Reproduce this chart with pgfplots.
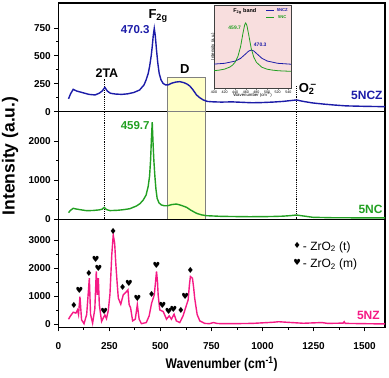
\documentclass[border=0pt]{standalone}
\usepackage{fontspec}
\setmainfont{Liberation Sans}
\newfontfamily\symfont{DejaVu Sans}
\usepackage{pgfplots}
\pgfplotsset{compat=1.18}
\definecolor{cblue}{HTML}{1C1CA8}
\definecolor{cgreen}{HTML}{22A022}
\definecolor{cpink}{HTML}{F51A85}
\definecolor{dbox}{HTML}{FFFFC8}
\definecolor{insetbg}{HTML}{F8DEDE}

\pgfplotsset{
  panel/.style={scale only axis, width=326.7pt, xmin=0, xmax=1600, clip=false,
    axis line style={line width=1.1pt}, tick align=outside, xtick pos=lower, ytick pos=left,
    major tick length=4pt, minor tick length=2.2pt, every tick/.style={black, line width=0.8pt},
    tick label style={font=\bfseries\fontsize{10}{10}\selectfont},
    /pgf/number format/1000 sep={}, /pgf/number format/assume math mode=true},
  spec/.style={line width=1.4pt, mark=none},
  symmark/.style={only marks, mark=text, text mark={#1}, text mark as node=true,
    text mark style={font=\symfont\fontsize{8.5}{8.5}\selectfont, inner sep=0pt, anchor=center}},
}
\tikzset{ann/.style={font=\bfseries\fontsize{12}{12}\selectfont, inner sep=0pt}}

\begin{document}
\begin{tikzpicture}
\useasboundingbox (0,0) rectangle (389pt,-378pt);

% top panel: 5NCZ
\begin{axis}[panel, at={(58.3pt,-3pt)}, anchor=north west, height=108.7pt,
  ymin=0, ymax=973, ytick={0,250,500,750}, minor y tick num=1, xtick=\empty]
\draw[gray, line width=0.5pt, fill=dbox] (axis cs:535,0) rectangle (axis cs:722,308);
\draw[densely dotted, line width=0.9pt] (axis cs:228,0) -- (axis cs:228,290);
\draw[densely dotted, line width=0.9pt] (axis cs:1166,0) -- (axis cs:1166,230);
\addplot[spec, cblue] coordinates {
(50,115)(60,160)(73,200)(90,185)(120,170)(150,155)(180,150)(200,165)(215,185)(228,218)
(240,185)(255,165)(280,158)(310,155)(340,160)(370,172)(398,194)(420,240)(430,284)(440,340)
(447,403)(455,500)(460,582)(465,680)(470,745)(475,680)(481,552)(487,440)(494,344)(503,285)
(513,254)(525,240)(538,240)(555,255)(575,265)(595,269)(615,260)(630,248)(644,230)(660,195)
(677,150)(693,125)(710,105)(730,92)(760,88)(800,86)(850,88)(900,84)(950,80)(1000,82)
(1050,86)(1100,92)(1166,105)(1200,92)(1247,78)(1300,68)(1350,60)(1410,52)(1500,48)(1600,45)};
\node[ann, anchor=base west, font=\bfseries\fontsize{13}{13}\selectfont] at (axis cs:441,836) {F\textsubscript{2g}};
\node[ann, anchor=base east, text=cblue, font=\bfseries\fontsize{11.5}{11.5}\selectfont] at (axis cs:448,703) {470.3};
\node[ann, anchor=base, font=\bfseries\fontsize{12.5}{12.5}\selectfont] at (axis cs:238,308) {2TA};
\node[ann, anchor=base, font=\bfseries\fontsize{13}{13}\selectfont] at (axis cs:620,338) {D};
\node[ann, anchor=base west, font=\bfseries\fontsize{13}{13}\selectfont] at (axis cs:1177,170) {O\rlap{\raisebox{0.8ex}{\fontsize{10}{10}\selectfont\,–}}\textsubscript{2}};
\node[ann, anchor=base east, text=cblue] at (axis cs:1589,111) {5NCZ};
\end{axis}

% middle panel: 5NC
\begin{axis}[panel, at={(58.3pt,-111.7pt)}, anchor=north west, height=107.6pt,
  ymin=0, ymax=2745, ytick={0,1000,2000}, minor y tick num=1, xtick=\empty]
\draw[gray, line width=0.5pt, fill=dbox] (axis cs:535,0) rectangle (axis cs:722,2745);
\draw[densely dotted, line width=0.9pt] (axis cs:228,0) -- (axis cs:228,2745);
\draw[densely dotted, line width=0.9pt] (axis cs:1166,0) -- (axis cs:1166,2745);
\addplot[spec, cgreen] coordinates {
(50,170)(60,230)(73,280)(90,260)(120,235)(139,220)(170,225)(200,240)(215,260)(225,306)
(235,250)(253,222)(290,230)(318,245)(350,270)(383,340)(400,400)(416,492)(430,620)(440,832)
(447,1100)(452,1513)(456,2050)(460,2480)(464,1950)(468,1500)(473,1100)(478,780)(484,536)
(493,420)(505,365)(520,345)(535,345)(555,375)(578,390)(600,360)(628,306)(650,230)(677,153)
(700,115)(726,92)(800,75)(900,68)(937,66)(1000,68)(1050,72)(1100,80)(1140,95)(1166,110)
(1200,85)(1247,51)(1300,45)(1345,40)(1450,38)(1600,38)};
\node[ann, anchor=base east, text=cgreen, font=\bfseries\fontsize{11.5}{11.5}\selectfont] at (axis cs:448,2296) {459.7};
\node[ann, anchor=base east, text=cgreen] at (axis cs:1589,153) {5NC};
\end{axis}

% bottom panel: 5NZ
\begin{axis}[panel, at={(58.3pt,-219.3pt)}, anchor=north west, height=108pt,
  ymin=-110, ymax=3760, ytick={0,1000,2000,3000}, minor y tick num=1,
  xtick={0,250,...,1500}, minor x tick num=1,
  xticklabel style={yshift=-8pt},
  xlabel={\scalebox{0.86}[1]{Wavenumber (cm\textsuperscript{-1})}},
  xlabel style={font=\bfseries\fontsize{14}{14}\selectfont, yshift=0pt},
  legend style={at={(axis cs:1150,2480)}, anchor=west, draw=none, fill=none,
    font=\fontsize{12}{12}\selectfont, row sep=3pt, inner sep=0pt},
  legend cell align=left]
\addplot[spec, cpink, forget plot] coordinates {
(50,179)(60,300)(73,430)(86,400)(94,510)(99,350)(106,990)(114,155)(126,20)(139,350)
(152,1650)(158,350)(168,40)(179,560)(186,1890)(191,1050)(196,1650)(201,690)(212,100)(222,250)
(228,333)(236,200)(245,500)(253,1078)(262,2500)(269,3200)(276,2900)(282,2128)(288,1500)(294,933)
(306,717)(318,1051)(334,1170)(341,1231)(347,700)(354,590)(364,120)(377,180)(387,700)(396,180)
(407,20)(431,60)(445,300)(457,753)(470,1051)(476,1500)(481,1890)(486,1500)(489,1051)(497,513)
(514,453)(530,180)(543,300)(554,180)(567,360)(578,120)(595,60)(611,300)(628,693)(636,870)
(642,1400)(647,1710)(657,1650)(663,1300)(668,930)(680,350)(693,120)(717,30)(740,20)(760,60)
(780,25)(850,20)(950,30)(1050,70)(1080,90)(1120,70)(1200,35)(1290,60)(1320,30)(1395,40)
(1400,90)(1405,30)(1500,20)(1600,10)};
\addplot[symmark={♦}] coordinates {
(77,657)(150,1830)(269,3323)(315,1327)(457,1051)(600,513)(647,1912)};
\addlegendentry{- ZrO\textsubscript{2} (t)}
\addplot[symmark={♥}] coordinates {
(103,1195)(183,2307)(196,1984)(225,477)(346,1446)(388,908)(481,2103)(510,668)(540,452)(564,538)(621,990)};
\addlegendentry{- ZrO\textsubscript{2} (m)}
\node[ann, anchor=base east, text=cpink] at (axis cs:1575,154) {5NZ};
\end{axis}

\node[rotate=90, font=\bfseries\fontsize{17.5}{17.5}\selectfont] at (10pt,-156pt) {Intensity (a.u.)};

% inset: F2g band
\begin{axis}[scale only axis, at={(214pt,-5pt)}, anchor=north west, width=77pt, height=83pt,
  xmin=400, xmax=545, ymin=0, ymax=83, xtick={400,420,...,540}, ytick=\empty,
  axis background/.style={fill=insetbg}, axis line style={line width=0.7pt, black!75},
  tick align=outside, xtick pos=lower, major tick length=1.5pt,
  /pgf/number format/assume math mode=true,
  tick label style={font=\fontsize{3.6}{3.6}\selectfont, inner sep=1pt},
  xlabel={Wavenumber (cm\textsuperscript{-1})}, ylabel={Intensity (a.u.)},
  label style={font=\fontsize{4.3}{4.3}\selectfont},
  xlabel style={yshift=5pt}, ylabel style={yshift=-6pt},
  legend style={at={(1,1)}, anchor=north east, draw=none, fill=none,
    font=\bfseries\fontsize{4.2}{4.2}\selectfont, inner sep=1pt, row sep=-1pt},
  legend image code/.code={\draw[#1, line width=0.8pt] (0pt,0pt) -- (8pt,0pt);}]
\addplot[cblue, line width=0.8pt] coordinates {
(400,23.9)(420,24.7)(440,26.9)(450,29.6)(460,34.3)(465,36.8)(470.3,38.0)(475,37.0)(480,34.6)
(490,29.8)(500,27.0)(520,24.7)(545,23.8)};
\addlegendentry{\textcolor{cblue}{5NCZ}}
\addplot[cgreen, line width=0.8pt] coordinates {
(400,17.3)(410,17.9)(420,18.9)(430,21.0)(435,22.9)(440,26.0)(445,31.5)(450,41.2)(455,56.1)
(458,63.6)(459.7,65.0)(462,62.5)(465,54.3)(470,39.8)(475,30.7)(480,25.6)(490,20.8)(500,18.8)
(510,17.9)(520,17.3)(530,17.0)(545,16.7)};
\addlegendentry{\textcolor{cgreen}{5NC}}
\node[font=\bfseries\fontsize{5.5}{5.5}\selectfont, inner sep=0pt] at (axis cs:458,77) {F\textsubscript{2g} band};
\node[font=\bfseries\fontsize{5}{5}\selectfont, text=cgreen, inner sep=0pt] at (axis cs:439,60) {459.7};
\node[font=\bfseries\fontsize{5}{5}\selectfont, text=cblue, inner sep=0pt] at (axis cs:487,43) {470.3};
\end{axis}
\end{tikzpicture}
\end{document}
